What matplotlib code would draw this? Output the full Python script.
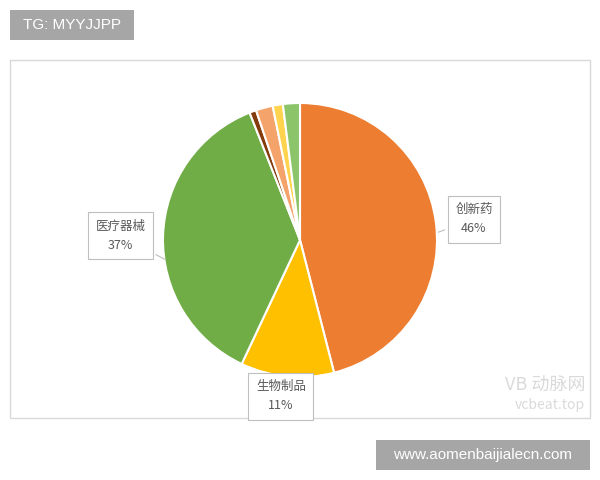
import matplotlib
matplotlib.use("Agg")
import matplotlib.pyplot as plt
from matplotlib.patches import Rectangle

plt.rcParams['font.family'] = ['Noto Sans CJK SC', 'DejaVu Sans']

categories = ['创新药', '生物制品', '医疗器械', '其他1', '其他2', '其他3', '其他4']
values = [46, 11, 37, 0.8, 2.0, 1.2, 2.0]
colors = ['#ED7D31', '#FFC000', '#70AD47', '#843C0C', '#F4A46A', '#FFD34D', '#8CC46A']
labeled = {0: '创新药\n46%', 1: '生物制品\n11%', 2: '医疗器械\n37%'}

W, H = 600, 480
fig = plt.figure(figsize=(6, 4.8), dpi=100)
fig.patch.set_facecolor('white')


def px_rect(x0, y0, x1, y1, **kw):
    return Rectangle((x0 / W, 1 - y1 / H), (x1 - x0) / W, (y1 - y0) / H,
                     transform=fig.transFigure, **kw)


# outer chart frame
fig.patches.append(px_rect(10, 60, 590, 418, facecolor='white', edgecolor='#D9D9D9',
                           linewidth=1.0, zorder=-5))

cx, cy, r = 300, 240, 137
ax = fig.add_axes([(cx - r) / W, 1 - (cy + r) / H, 2 * r / W, 2 * r / H], zorder=2)
ax.patch.set_visible(False)
ax.pie(values, colors=colors, startangle=90, counterclock=False, radius=1,
       wedgeprops=dict(edgecolor='white', linewidth=1.5))
ax.set_xlim(-1, 1)
ax.set_ylim(-1, 1)
ax.set_aspect('auto')
ax.axis('off')

label_pos = {0: (1.27, 0.15), 1: (-0.14, -1.14), 2: (-1.31, 0.03)}
anchor = {0: (0.99, 0.05), 1: (-0.14, -0.99), 2: (-0.97, -0.15)}
for i, txt in labeled.items():
    ax.annotate(txt, xy=anchor[i], xytext=label_pos[i], ha='center', va='center',
                fontsize=9, color='#595959', linespacing=1.6, annotation_clip=False,
                bbox=dict(boxstyle='square,pad=0.6', fc='white', ec='#BFBFBF', lw=0.8),
                arrowprops=dict(arrowstyle='-', color='#BFBFBF', lw=0.8))

# faint watermark inside the chart
fig.text(545 / W, 1 - 386 / H, 'VB 动脉网', fontsize=13, color='#DADADA', ha='center', va='center')
fig.text(550 / W, 1 - 405 / H, 'vcbeat.top', fontsize=10, color='#DADADA', ha='center', va='center')

# overlay tags
fig.patches.append(px_rect(10, 10, 134, 40, facecolor='#A6A6A6', edgecolor='none', zorder=5))
fig.text(72 / W, 1 - 25 / H, 'TG: MYYJJPP', fontsize=11, color='white', ha='center', va='center',
         family=['Liberation Sans'], zorder=6)
fig.patches.append(px_rect(376, 440, 590, 470, facecolor='#A6A6A6', edgecolor='none', zorder=5))
fig.text(483 / W, 1 - 455 / H, 'www.aomenbaijialecn.com', fontsize=11, color='white', ha='center',
         va='center', family=['Liberation Sans'], zorder=6)

fig.savefig('out.png', dpi=100)
